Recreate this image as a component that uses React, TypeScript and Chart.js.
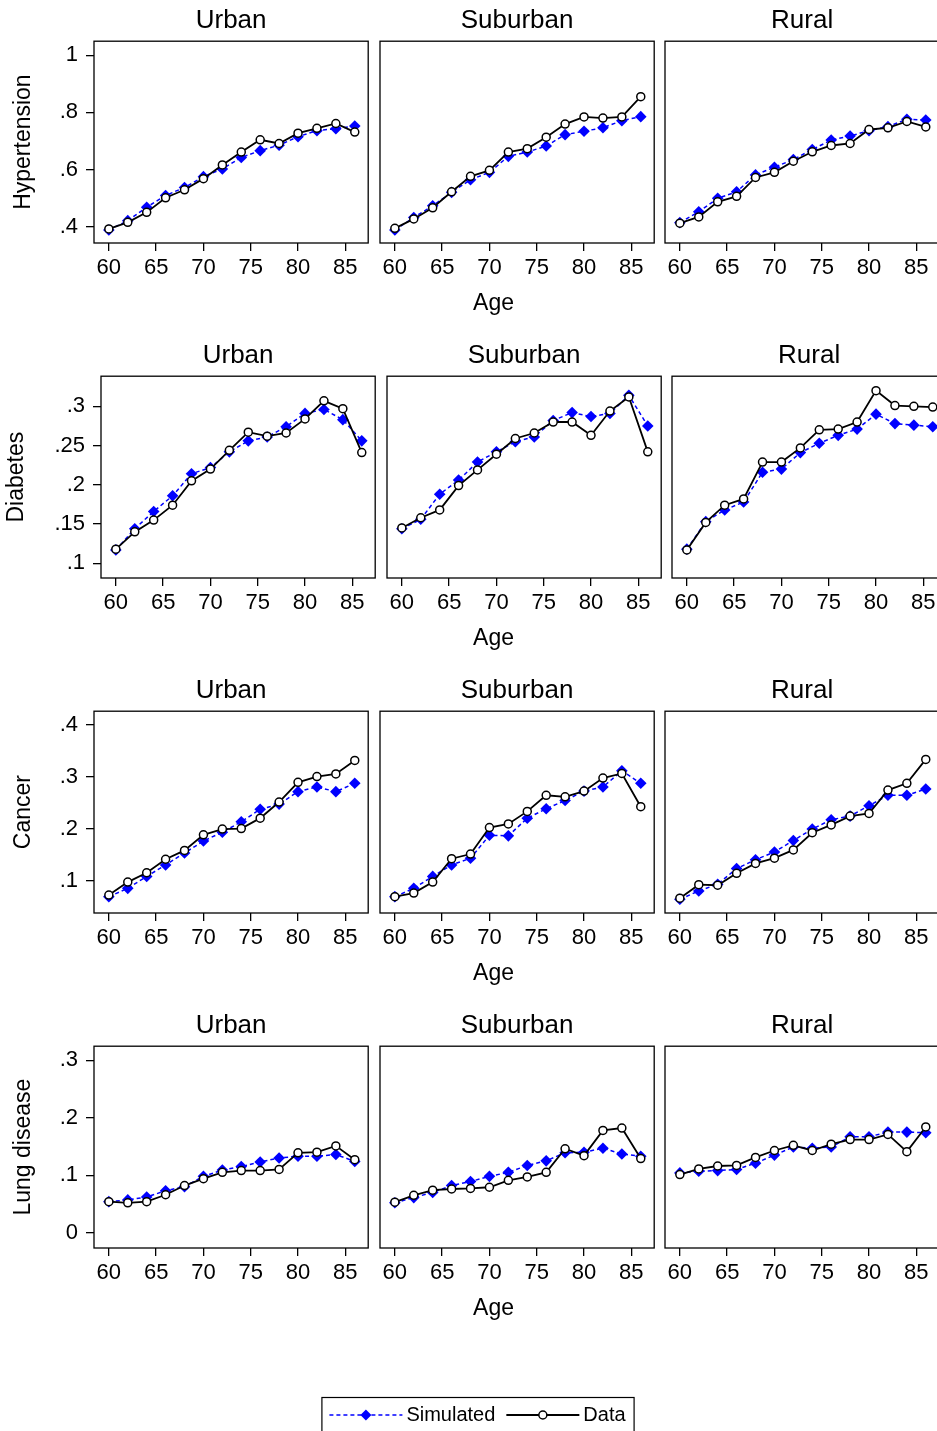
import React, { useEffect, useRef } from 'react';
import { Chart, registerables } from 'chart.js';

Chart.register(...registerables);

const FONT = '"Liberation Sans", Arial, Helvetica, sans-serif';
Chart.defaults.font.family = FONT;
Chart.defaults.color = '#000';

// ---------------- data ----------------
const ages = [60, 62, 64, 66, 68, 70, 72, 74, 76, 78, 80, 82, 84, 86];
const xTicks = [60, 65, 70, 75, 80, 85];
const columnTitles = ['Urban', 'Suburban', 'Rural'];
const rowTitles = ['Hypertension', 'Diabetes', 'Cancer', 'Lung disease'];
const xAxisTitle = 'Age';

const hypertensionTicks = [0.4, 0.6, 0.8, 1];
const hypertensionTickLabels = ['.4', '.6', '.8', '1'];
const diabetesTicks = [0.1, 0.15, 0.2, 0.25, 0.3];
const diabetesTickLabels = ['.1', '.15', '.2', '.25', '.3'];
const cancerTicks = [0.1, 0.2, 0.3, 0.4];
const cancerTickLabels = ['.1', '.2', '.3', '.4'];
const lungTicks = [0, 0.1, 0.2, 0.3];
const lungTickLabels = ['0', '.1', '.2', '.3'];

const hypUrbanSim = [0.388, 0.421, 0.468, 0.509, 0.537, 0.575, 0.602, 0.642, 0.666, 0.685, 0.715, 0.736, 0.743, 0.752];
const hypUrbanData = [0.392, 0.415, 0.45, 0.501, 0.529, 0.568, 0.616, 0.661, 0.704, 0.691, 0.727, 0.744, 0.761, 0.731];
const hypSuburbanSim = [0.388, 0.432, 0.473, 0.52, 0.564, 0.59, 0.646, 0.661, 0.682, 0.722, 0.734, 0.746, 0.771, 0.785];
const hypSuburbanData = [0.394, 0.427, 0.466, 0.522, 0.576, 0.597, 0.661, 0.673, 0.713, 0.759, 0.784, 0.78, 0.784, 0.855];
const hypRuralSim = [0.414, 0.452, 0.499, 0.522, 0.581, 0.608, 0.635, 0.67, 0.703, 0.717, 0.736, 0.75, 0.776, 0.773];
const hypRuralData = [0.412, 0.434, 0.487, 0.506, 0.572, 0.59, 0.629, 0.662, 0.684, 0.691, 0.74, 0.746, 0.768, 0.749];

const diaUrbanSim = [0.117, 0.144, 0.166, 0.186, 0.214, 0.222, 0.242, 0.256, 0.261, 0.274, 0.291, 0.296, 0.283, 0.256];
const diaUrbanData = [0.118, 0.14, 0.155, 0.174, 0.205, 0.22, 0.244, 0.267, 0.262, 0.266, 0.284, 0.307, 0.297, 0.241];
const diaSuburbanSim = [0.144, 0.156, 0.188, 0.206, 0.229, 0.242, 0.255, 0.261, 0.282, 0.292, 0.287, 0.291, 0.314, 0.275];
const diaSuburbanData = [0.145, 0.158, 0.168, 0.199, 0.219, 0.239, 0.259, 0.266, 0.28, 0.28, 0.263, 0.294, 0.312, 0.242];
const diaRuralSim = [0.118, 0.153, 0.168, 0.178, 0.216, 0.22, 0.241, 0.253, 0.263, 0.271, 0.29, 0.278, 0.276, 0.274];
const diaRuralData = [0.117, 0.152, 0.174, 0.182, 0.229, 0.229, 0.247, 0.27, 0.271, 0.28, 0.32, 0.301, 0.3, 0.299];

const canUrbanSim = [0.069, 0.085, 0.108, 0.13, 0.153, 0.176, 0.193, 0.213, 0.237, 0.247, 0.271, 0.28, 0.271, 0.287];
const canUrbanData = [0.072, 0.097, 0.115, 0.141, 0.158, 0.188, 0.199, 0.2, 0.22, 0.251, 0.289, 0.3, 0.305, 0.331];
const canSuburbanSim = [0.069, 0.085, 0.108, 0.13, 0.143, 0.187, 0.186, 0.22, 0.238, 0.254, 0.272, 0.28, 0.311, 0.287];
const canSuburbanData = [0.069, 0.076, 0.097, 0.142, 0.151, 0.202, 0.209, 0.233, 0.264, 0.261, 0.272, 0.297, 0.306, 0.242];
const canRuralSim = [0.064, 0.08, 0.093, 0.123, 0.14, 0.155, 0.177, 0.199, 0.217, 0.224, 0.244, 0.264, 0.264, 0.276];
const canRuralData = [0.066, 0.092, 0.091, 0.114, 0.133, 0.143, 0.159, 0.192, 0.207, 0.224, 0.229, 0.274, 0.287, 0.333];

const lungUrbanSim = [0.054, 0.057, 0.062, 0.073, 0.08, 0.098, 0.109, 0.115, 0.123, 0.13, 0.133, 0.133, 0.136, 0.124];
const lungUrbanData = [0.054, 0.052, 0.054, 0.066, 0.082, 0.094, 0.105, 0.108, 0.108, 0.11, 0.139, 0.14, 0.151, 0.127];
const lungSuburbanSim = [0.052, 0.061, 0.07, 0.082, 0.089, 0.098, 0.105, 0.117, 0.125, 0.139, 0.14, 0.147, 0.137, 0.133];
const lungSuburbanData = [0.053, 0.065, 0.074, 0.076, 0.077, 0.079, 0.091, 0.097, 0.105, 0.146, 0.134, 0.178, 0.182, 0.129];
const lungRuralSim = [0.104, 0.107, 0.108, 0.11, 0.121, 0.135, 0.149, 0.147, 0.149, 0.167, 0.167, 0.175, 0.175, 0.174];
const lungRuralData = [0.101, 0.111, 0.116, 0.117, 0.131, 0.143, 0.152, 0.143, 0.154, 0.162, 0.162, 0.171, 0.141, 0.184];

// ---------------- row table (built from the arrays) ----------------
const rows = [
  { title: rowTitles[0], ticks: hypertensionTicks, labels: hypertensionTickLabels, min: 0.3427, max: 1.049,
    series: [[hypUrbanSim, hypUrbanData], [hypSuburbanSim, hypSuburbanData], [hypRuralSim, hypRuralData]] },
  { title: rowTitles[1], ticks: diabetesTicks, labels: diabetesTickLabels, min: 0.0812, max: 0.3384,
    series: [[diaUrbanSim, diaUrbanData], [diaSuburbanSim, diaSuburbanData], [diaRuralSim, diaRuralData]] },
  { title: rowTitles[2], ticks: cancerTicks, labels: cancerTickLabels, min: 0.0376, max: 0.4257,
    series: [[canUrbanSim, canUrbanData], [canSuburbanSim, canSuburbanData], [canRuralSim, canRuralData]] },
  { title: rowTitles[3], ticks: lungTicks, labels: lungTickLabels, min: -0.0267, max: 0.3245,
    series: [[lungUrbanSim, lungUrbanData], [lungSuburbanSim, lungSuburbanData], [lungRuralSim, lungRuralData]] },
];

const X_MIN = 58.43;
const X_MAX = 87.42;

// ---------------- layout ----------------
const BOX_TOPS = [42, 377, 712, 1047];
const BOX_H = 201;
const BOX_W = 276;
const BOX_LEFTS = [
  [94, 380, 665],
  [101, 387, 672],
  [94, 380, 665],
  [94, 380, 665],
];
const TITLE_BLOCK = 36;
const XAXIS_H = 80;
const PAD_R = 4;
const PAD_L = 10;
const YTITLE_PAD = [9.7, 2.4, 9.7, 9.7];
const AGE_CENTER_X = 493.5; // page x of the shared x-axis title
const AGE_OFFSET_Y = 61; // below the plot box

const BLUE = '#0000ff';

const plotBox = {
  id: 'plotBox',
  beforeDatasetsDraw(chart: any) {
    const { ctx, chartArea: a } = chart;
    ctx.save();
    ctx.strokeStyle = '#000';
    ctx.lineWidth = 1.3;
    ctx.strokeRect(a.left, a.top, a.right - a.left, a.bottom - a.top);
    ctx.restore();
  },
};

// Shared x-axis title, centred on the whole figure (drawn by the middle panel).
function sharedXTitle(canvasLeft: number) {
  return {
    id: 'sharedXTitle',
    afterDraw(chart: any) {
      const { ctx, chartArea: a } = chart;
      ctx.save();
      ctx.font = `23px ${FONT}`;
      ctx.fillStyle = '#000';
      ctx.textAlign = 'center';
      ctx.textBaseline = 'middle';
      ctx.fillText(xAxisTitle, AGE_CENTER_X - canvasLeft, a.bottom + AGE_OFFSET_Y);
      ctx.restore();
    },
  };
}

function drawDiamond(ctx: CanvasRenderingContext2D, x: number, y: number, r: number) {
  ctx.beginPath();
  ctx.moveTo(x - r, y);
  ctx.lineTo(x, y - r);
  ctx.lineTo(x + r, y);
  ctx.lineTo(x, y + r);
  ctx.closePath();
  ctx.fillStyle = BLUE;
  ctx.fill();
}

function drawCircle(ctx: CanvasRenderingContext2D, x: number, y: number, r: number) {
  ctx.beginPath();
  ctx.arc(x, y, r, 0, Math.PI * 2);
  ctx.fillStyle = '#fff';
  ctx.fill();
  ctx.lineWidth = 1.5;
  ctx.strokeStyle = '#000';
  ctx.stroke();
}

const legendDecor = {
  id: 'legendDecor',
  afterDraw(chart: any) {
    const { ctx } = chart;
    const boxes = chart.legend?.legendHitBoxes || [];
    if (!boxes.length) return;
    ctx.save();
    boxes.forEach((b: any, i: number) => {
      const ds = chart.data.datasets[i];
      const cy = b.top + b.height / 2;
      const x0 = b.left + 1;
      const x1 = b.left + 74;
      ctx.strokeStyle = ds.borderColor;
      ctx.lineWidth = ds.borderWidth;
      ctx.setLineDash(ds.borderDash || []);
      ctx.beginPath();
      ctx.moveTo(x0, cy);
      ctx.lineTo(x1, cy);
      ctx.stroke();
      ctx.setLineDash([]);
      if (i === 0) drawDiamond(ctx, (x0 + x1) / 2, cy, 5.5);
      else drawCircle(ctx, (x0 + x1) / 2, cy, 4);
    });
    const first = boxes[0];
    const last = boxes[boxes.length - 1];
    const left = first.left - 6.5;
    const right = last.left + last.width + 8.5;
    const cy = first.top + first.height / 2;
    ctx.strokeStyle = '#000';
    ctx.lineWidth = 1.2;
    ctx.strokeRect(left, cy - 17.5, right - left, 35);
    ctx.restore();
  },
};

function makeDatasets(sim: number[], dat: number[]) {
  return [
    {
      label: 'Simulated',
      data: ages.map((a, i) => ({ x: a, y: sim[i] })),
      borderColor: BLUE,
      borderWidth: 1.5,
      borderDash: [4, 3],
      pointStyle: 'rectRot',
      pointRadius: 5.8,
      pointBackgroundColor: BLUE,
      pointBorderColor: BLUE,
      pointBorderWidth: 0,
      tension: 0,
      order: 1,
    },
    {
      label: 'Data',
      data: ages.map((a, i) => ({ x: a, y: dat[i] })),
      borderColor: '#000',
      borderWidth: 1.8,
      pointStyle: 'circle',
      pointRadius: 4,
      pointBackgroundColor: '#fff',
      pointBorderColor: '#000',
      pointBorderWidth: 1.5,
      tension: 0,
      order: 0,
    },
  ];
}

function gridOpts() {
  return {
    drawOnChartArea: false,
    drawTicks: true,
    tickLength: 8,
    tickColor: '#000',
    tickWidth: 1.3,
    color: '#000',
    lineWidth: 1.3,
  };
}

function panelConfig(r: number, c: number, canvasLeft: number): any {
  const row = rows[r];
  const [sim, dat] = row.series[c];
  const boxLeft = BOX_LEFTS[r][c];
  const yScale =
    c === 0
      ? {
          type: 'linear',
          min: row.min,
          max: row.max,
          afterBuildTicks: (ax: any) => {
            ax.ticks = row.ticks.map((v) => ({ value: v }));
          },
          afterFit: (ax: any) => {
            ax.width = boxLeft;
          },
          grid: gridOpts(),
          border: { display: false },
          ticks: {
            font: { size: 22 },
            color: '#000',
            padding: 8,
            callback: (v: number) => {
              const k = row.ticks.findIndex((t) => Math.abs(t - v) < 1e-9);
              return k >= 0 ? row.labels[k] : '';
            },
          },
          title: {
            display: true,
            text: row.title,
            font: { size: 23 },
            color: '#000',
            padding: { top: YTITLE_PAD[r], bottom: 0 },
          },
        }
      : { type: 'linear', display: false, min: row.min, max: row.max };

  const plugins: any[] = [plotBox];
  if (c === 1) plugins.push(sharedXTitle(canvasLeft));

  return {
    type: 'line',
    data: { datasets: makeDatasets(sim, dat) },
    options: {
      responsive: false,
      animation: false,
      devicePixelRatio: 1,
      layout: { padding: { left: c === 0 ? 0 : PAD_L, right: PAD_R, top: 0, bottom: 0 } },
      plugins: {
        legend: { display: false },
        tooltip: { enabled: false },
        title: {
          display: true,
          text: columnTitles[c],
          fullSize: false,
          color: '#000',
          font: { size: 26, weight: 'normal' },
          padding: { top: 0, bottom: 5 },
        },
      },
      scales: {
        x: {
          type: 'linear',
          min: X_MIN,
          max: X_MAX,
          afterBuildTicks: (ax: any) => {
            ax.ticks = xTicks.map((v) => ({ value: v }));
          },
          afterFit: (ax: any) => {
            ax.height = XAXIS_H;
          },
          grid: gridOpts(),
          border: { display: false },
          ticks: {
            font: { size: 22 },
            color: '#000',
            padding: 4,
            maxRotation: 0,
            autoSkip: false,
            callback: (v: number) => String(v),
          },
          title: { display: false },
        },
        y: yScale,
      },
    },
    plugins,
  };
}

function legendConfig(): any {
  const ds = makeDatasets([], []).map((d) => ({ ...d, data: [], order: 0 }));
  return {
    type: 'line',
    data: { datasets: ds },
    options: {
      responsive: false,
      animation: false,
      devicePixelRatio: 1,
      layout: { padding: 0 },
      scales: { x: { display: false }, y: { display: false } },
      plugins: {
        tooltip: { enabled: false },
        title: { display: false },
        legend: {
          display: true,
          position: 'top',
          align: 'center',
          onClick: () => {},
          labels: {
            boxWidth: 68,
            boxHeight: 0,
            padding: 10,
            color: '#000',
            font: { size: 20 },
            generateLabels: (chart: any) =>
              chart.data.datasets.map((d: any, i: number) => ({
                text: d.label,
                fillStyle: 'rgba(0,0,0,0)',
                strokeStyle: 'rgba(0,0,0,0)',
                lineWidth: 0,
                hidden: false,
                datasetIndex: i,
                fontColor: '#000',
              })),
          },
        },
      },
    },
    plugins: [legendDecor],
  };
}

type CanvasProps = { left: number; top: number; width: number; height: number; make: () => any };

function ChartCanvas({ left, top, width, height, make }: CanvasProps) {
  const ref = useRef<HTMLCanvasElement | null>(null);
  useEffect(() => {
    if (!ref.current) return;
    const chart = new Chart(ref.current, make());
    return () => chart.destroy();
  }, []);
  return (
    <canvas
      ref={ref}
      width={width}
      height={height}
      style={{ position: 'absolute', left, top, width, height }}
    />
  );
}

export default function App() {
  const panels: React.ReactNode[] = [];
  rows.forEach((_, r) => {
    columnTitles.forEach((__, c) => {
      const boxLeft = BOX_LEFTS[r][c];
      const boxTop = BOX_TOPS[r];
      const left = c === 0 ? 0 : boxLeft - PAD_L;
      const width = c === 0 ? boxLeft + BOX_W + PAD_R : BOX_W + PAD_L + PAD_R;
      const top = boxTop - (TITLE_BLOCK + 1);
      const height = TITLE_BLOCK + 1 + BOX_H + XAXIS_H;
      panels.push(
        <ChartCanvas
          key={`${r}-${c}`}
          left={left}
          top={top}
          width={width}
          height={height}
          make={() => panelConfig(r, c, left)}
        />
      );
    });
  });
  return (
    <div
      style={{
        position: 'absolute',
        left: 0,
        top: 0,
        width: 937,
        height: 1431,
        overflow: 'hidden',
        background: '#fff',
      }}
    >
      {panels}
      <ChartCanvas left={297} top={1395} width={360} height={60} make={legendConfig} />
    </div>
  );
}
